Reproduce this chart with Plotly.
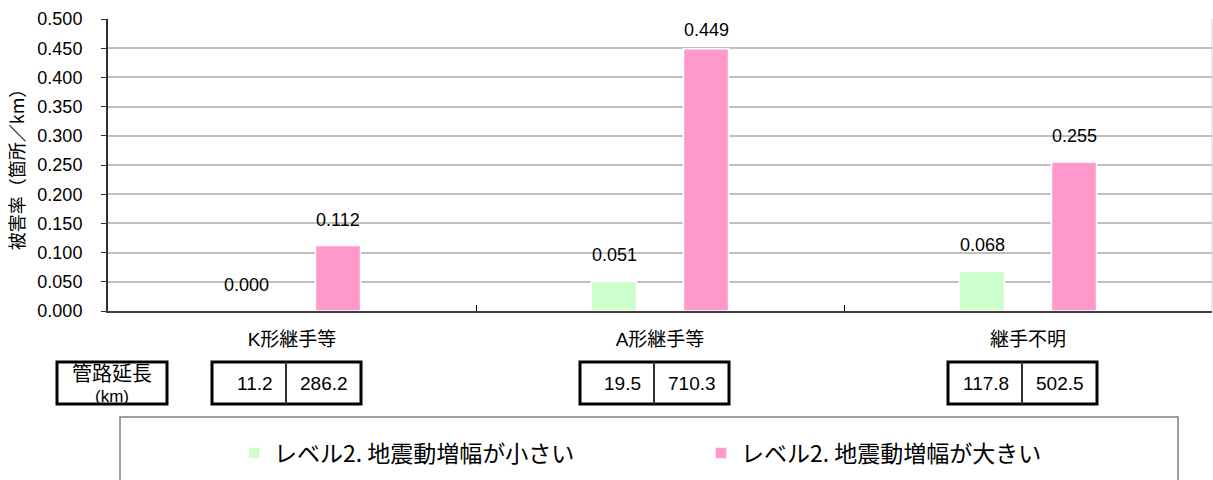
import plotly.graph_objects as go

# Joint types and damage rates (cases/km)
categories = ["K形継手等", "A形継手等", "継手不明"]
rate_small = [0.000, 0.051, 0.068]   # level 2, small ground-motion amplification
rate_large = [0.112, 0.449, 0.255]   # level 2, large ground-motion amplification

# Pipeline length (km) for each group
length_small = [11.2, 19.5, 117.8]
length_large = [286.2, 710.3, 502.5]

series_names = ["レベル2. 地震動増幅が小さい", "レベル2. 地震動増幅が大きい"]
y_ticks = [0.0, 0.05, 0.1, 0.15, 0.2, 0.25, 0.3, 0.35, 0.4, 0.45, 0.5]
Y_MAX = 0.5

GREEN = "#CCFFCC"
PINK = "#FF99CC"
FONT = "Liberation Sans, Arial, Noto Sans CJK JP, sans-serif"
JP_FONT = "Noto Sans CJK JP, sans-serif"

W, H = 1213, 480
ML, MR, MT, MB = 108, 1, 19, 169
PW = W - ML - MR
PH = H - MT - MB


def px_x(px):
    return (px - ML) / PW


def px_y(py):
    return (H - MB - py) / PH


fig = go.Figure()
for name, vals, color in [(series_names[0], rate_small, GREEN),
                          (series_names[1], rate_large, PINK)]:
    fig.add_trace(go.Bar(
        x=categories, y=vals, name=name,
        marker=dict(color=color, line=dict(color="white", width=1.5)),
    ))

annotations = []
# Value labels above each bar; labels near the top are pulled down into the plot
for i, cat in enumerate(categories):
    for vals, shift in [(rate_small, -46), (rate_large, 46)]:
        room = (Y_MAX - vals[i]) / Y_MAX * PH
        annotations.append(dict(
            x=cat, y=vals[i], xref="x", yref="y",
            text=f"{vals[i]:.3f}", showarrow=False,
            xshift=shift, yshift=min(14, room - 23), xanchor="center", yanchor="bottom",
            font=dict(family=FONT, size=18, color="#000000"),
        ))

shapes = []
# Pipeline length table below the axis
row_top, row_bot = px_y(362), px_y(404)
shapes.append(dict(type="rect", xref="paper", yref="paper",
                   x0=px_x(57), x1=px_x(167), y0=row_bot, y1=row_top,
                   line=dict(color="#000000", width=3), fillcolor="white"))
annotations.append(dict(x=px_x(112), y=px_y(372), xref="paper", yref="paper",
                        text="管路延長", showarrow=False,
                        xanchor="center", yanchor="middle",
                        font=dict(family=JP_FONT, size=20, color="#000000")))
annotations.append(dict(x=px_x(112), y=px_y(396), xref="paper", yref="paper",
                        text="(km)", showarrow=False,
                        xanchor="center", yanchor="middle",
                        font=dict(family=FONT, size=17, color="#000000")))

for i in range(len(categories)):
    cx = ML + PW * (i + 0.5) / 3
    left, mid, right = cx - 80, cx - 6, cx + 69
    shapes.append(dict(type="rect", xref="paper", yref="paper",
                       x0=px_x(left), x1=px_x(right), y0=row_bot, y1=row_top,
                       line=dict(color="#000000", width=3), fillcolor="white"))
    shapes.append(dict(type="line", xref="paper", yref="paper",
                       x0=px_x(mid), x1=px_x(mid), y0=row_bot, y1=row_top,
                       line=dict(color="#303030", width=2)))
    for val, edge in [(length_small[i], mid), (length_large[i], right)]:
        annotations.append(dict(
            x=px_x(edge - 11), y=px_y(383.5), xref="paper", yref="paper",
            text=f"{val:.1f}", showarrow=False,
            xanchor="right", yanchor="middle",
            font=dict(family=FONT, size=19, color="#000000"),
        ))

# Frame around the legend
shapes.append(dict(type="rect", xref="paper", yref="paper",
                   x0=px_x(120), x1=px_x(1178), y0=px_y(520), y1=px_y(417),
                   line=dict(color="#808080", width=1.5)))
# Right edge of the plot area
shapes.append(dict(type="line", xref="paper", yref="paper",
                   x0=1, x1=1, y0=0, y1=1,
                   line=dict(color="#D0D0D0", width=1)))

fig.update_layout(
    width=W, height=H,
    margin=dict(l=ML, r=MR, t=MT, b=MB, pad=0),
    paper_bgcolor="white", plot_bgcolor="white",
    barmode="group", bargap=0.5, bargroupgap=0.51,
    font=dict(family=FONT, size=18, color="#000000"),
    showlegend=True,
    legend=dict(
        orientation="h",
        xref="container", x=234 / W, xanchor="left",
        yref="container", y=1 - 453 / H, yanchor="middle",
        entrywidth=422, entrywidthmode="pixels",
        font=dict(family=JP_FONT, size=23, color="#000000"),
        bgcolor="rgba(0,0,0,0)", itemclick=False,
    ),
    shapes=shapes,
    annotations=annotations,
)

fig.update_xaxes(
    type="category",
    tickson="boundaries", ticks="inside", ticklen=6, tickcolor="#000000", tickwidth=1,
    showline=True, linecolor="#404040", linewidth=2,
    ticklabelstandoff=10,
    tickfont=dict(family=FONT, size=19, color="#000000"),
    showgrid=False,
)

fig.update_yaxes(
    range=[0, Y_MAX], tickvals=y_ticks, tickformat=".3f",
    ticks="outside", ticklen=5, tickcolor="#303030", tickwidth=1,
    showline=True, linecolor="#303030", linewidth=2,
    showgrid=True, gridcolor="#C0C0C0", gridwidth=2,
    zeroline=False,
    ticklabelstandoff=15,
    tickfont=dict(family=FONT, size=18, color="#000000"),
    title=dict(text="被害率（箇所／km）", standoff=8,
               font=dict(family=JP_FONT, size=18, color="#000000")),
)

fig.write_html("out.html")
